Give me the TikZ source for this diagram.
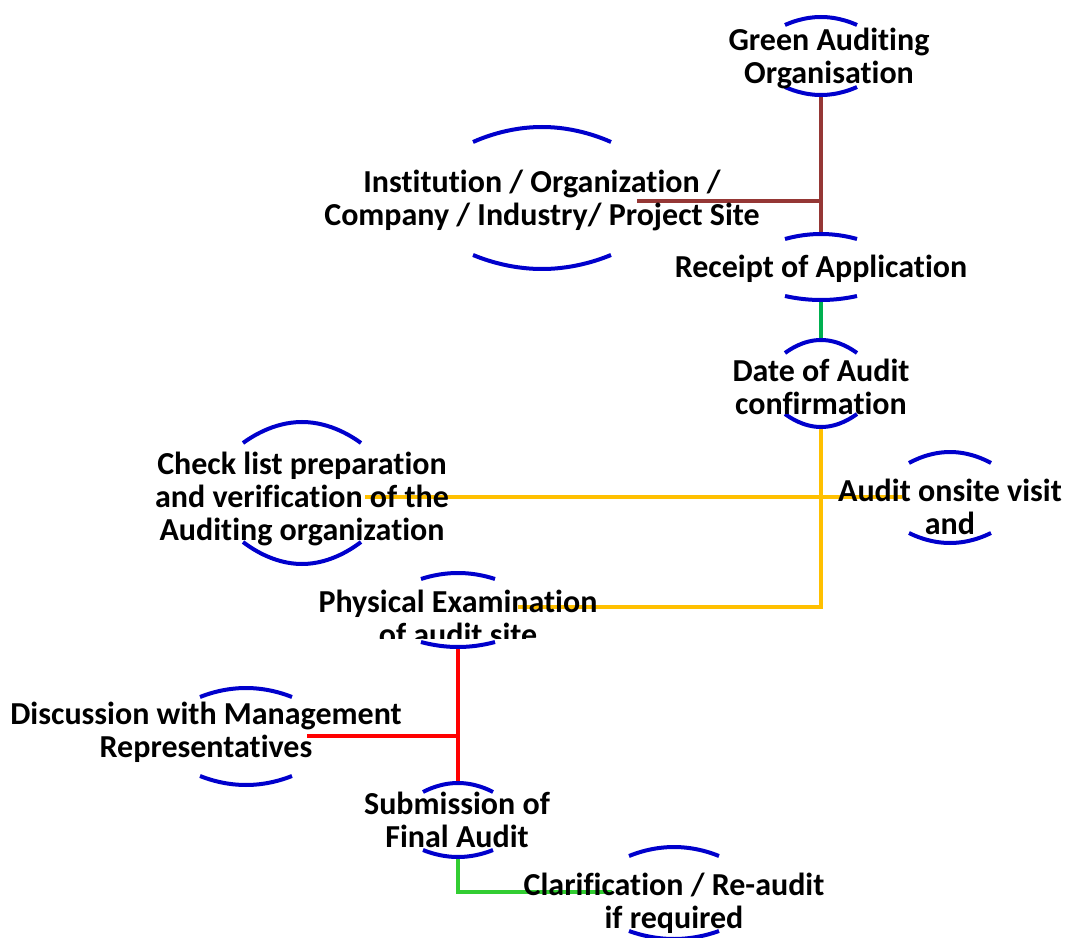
\documentclass[tikz,border=0pt]{standalone}
\usepackage{fontspec}
\setmainfont{Carlito}[Ligatures=NoCommon]
\definecolor{arcblue}{RGB}{0,0,204}
\definecolor{lnbrown}{RGB}{149,55,53}
\definecolor{lngreenA}{RGB}{0,176,80}
\definecolor{lngreenB}{RGB}{50,205,50}
\definecolor{lnorange}{RGB}{255,192,0}
\definecolor{lnred}{RGB}{255,0,0}
\newcommand\ovpts[7]{%
  \coordinate (#1-t) at (#2,#3);
  \coordinate (#1-tl) at (#2-#7,#4);
  \coordinate (#1-tr) at (#2+#7,#4);
  \coordinate (#1-b) at (#2,#6);
  \coordinate (#1-bl) at (#2-#7,#5);
  \coordinate (#1-br) at (#2+#7,#5);}
\newcommand\ovdraw[1]{%
  \draw[arcline] (#1-tl) parabola bend (#1-t) (#1-tr);
  \draw[arcline] (#1-bl) parabola bend (#1-b) (#1-br);}
\tikzset{
  lbl/.style={font=\fontsize{24}{24.75}\selectfont\bfseries, align=center, inner sep=0pt, text=black},
  arcline/.style={draw=arcblue, line width=3pt},
  conn/.style={line width=2.4pt},
  brownline/.style={conn, draw=lnbrown},
  greenAline/.style={conn, draw=lngreenA},
  greenBline/.style={conn, draw=lngreenB},
  orangeline/.style={conn, draw=lnorange},
  redline/.style={conn, draw=lnred}
}
\begin{document}
\begin{tikzpicture}[x=0.75pt,y=-0.75pt]
\useasboundingbox (0,0) rectangle (1065,938);
% arc points: name, cx, top apex, top end, bottom end, bottom apex, half width
\ovpts{gao}{821}{17}{25}{87}{95}{36}
\ovpts{inst}{542}{127}{142}{255}{269}{69}
\ovpts{rec}{821}{234}{239}{296}{300}{36}
\ovpts{date}{821}{340}{353}{414}{427}{36}
\ovpts{aud}{950}{452}{463}{533}{543}{41}
\ovpts{chk}{302}{422}{443}{542}{564}{59}
\ovpts{phys}{458}{573}{579}{642}{647}{37}
\ovpts{disc}{246}{688}{697}{776}{785}{46}
\ovpts{sub}{458}{783}{792}{850}{857}{35}
\ovpts{clar}{674}{847}{856}{931}{939}{45}
% connector free ends
\coordinate (instR) at (637,201);
\coordinate (chkR) at (365,497);
\coordinate (audL) at (902,497);
\coordinate (physR) at (518,607);
\coordinate (discR) at (307,736);
\coordinate (clarL) at (612,892);
% connectors
\draw[brownline] (gao-b) -- (rec-t);
\draw[brownline] (instR) -- (instR -| gao-b);
\draw[greenAline] (rec-b) -- (date-t);
\draw[orangeline] (date-b) |- (physR);
\draw[orangeline] (chkR) -- (audL);
\draw[redline] (phys-b) -- (sub-t);
\draw[redline] (discR) -- (discR -| phys-b);
\draw[greenBline] (sub-b) |- (clarL);
% arcs
\ovdraw{gao}
\ovdraw{inst}
\ovdraw{rec}
\ovdraw{date}
\ovdraw{aud}
\ovdraw{chk}
\ovdraw{phys}
\ovdraw{disc}
\ovdraw{sub}
\ovdraw{clar}
% texts
\node[lbl] (gao) at (829,58) {Green Auditing\\Organisation};
\node[lbl] (inst) at (542,200) {Institution / Organization /\\Company / Industry/ Project Site};
\node[lbl] (rec) at (821,269) {Receipt of Application};
\node[lbl] (date) at (821,387) {Date of Audit\\confirmation};
\node[lbl] (aud) at (950,507) {Audit onsite visit\\and};
\node[lbl] (chk) at (302,499) {Check list preparation\\and verification of the\\Auditing organization};
\begin{scope}
\clip (0,0) rectangle (1065,638);
\node[lbl] (phys) at (458,618) {Physical Examination\\of audit site};
\end{scope}
\node[lbl] (disc) at (206,732) {Discussion with Management\\Representatives};
\node[lbl] (sub) at (457,820) {Submission of\\Final Audit};
\node[lbl] (clar) at (674,903) {Clarification / Re-audit\\if required};
\end{tikzpicture}
\end{document}
